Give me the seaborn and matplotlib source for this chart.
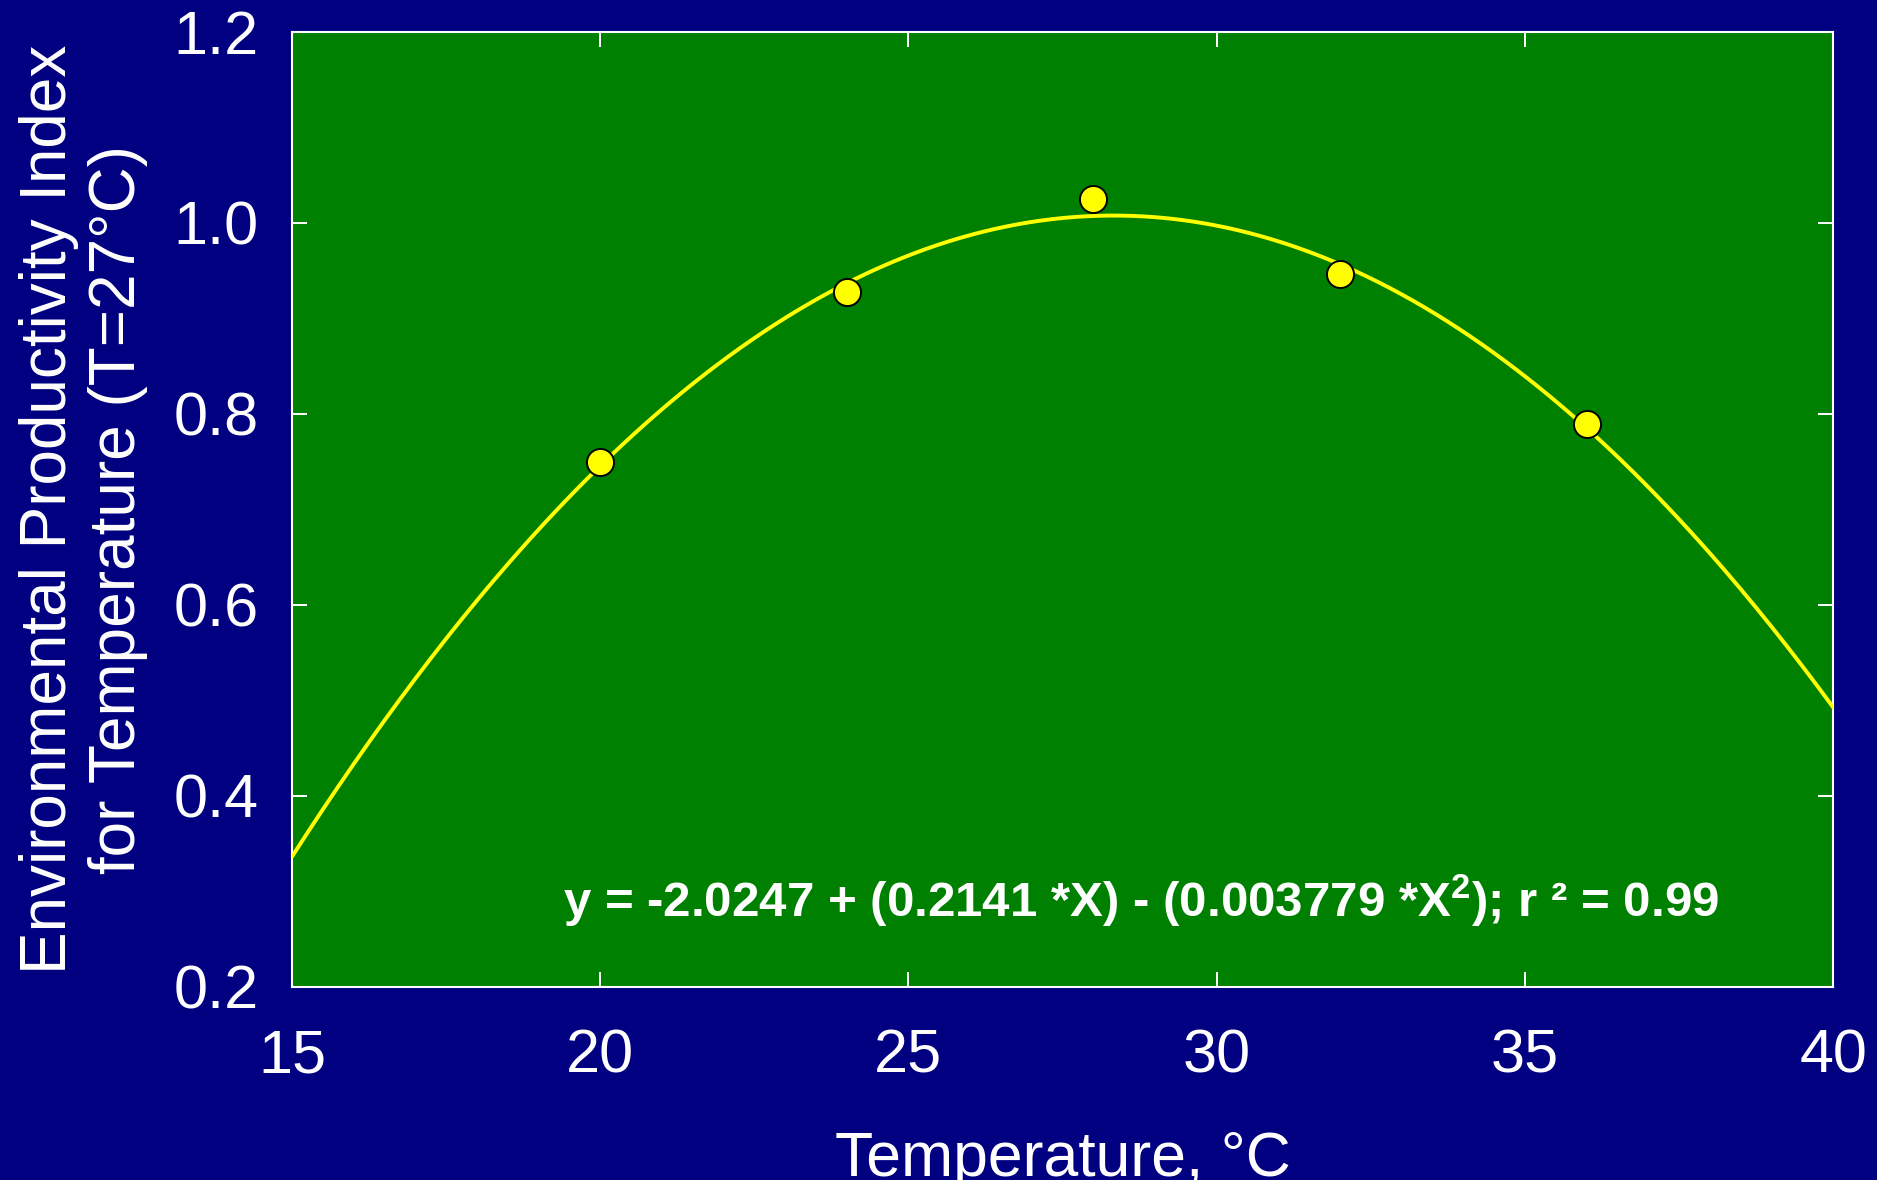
import numpy as np
import pandas as pd
import matplotlib
matplotlib.use("Agg")
import matplotlib.pyplot as plt
import seaborn as sns

# Observed productivity index at each temperature
temperature = [20, 24, 28, 32, 36]
productivity = [0.750, 0.928, 1.025, 0.947, 0.789]

# Quadratic fit coefficients: y = b0 + b1*X + b2*X^2
b0, b1, b2 = -2.0247, 0.2141, -0.003779
r_squared = 0.99

x_ticks = [15, 20, 25, 30, 35, 40]
y_ticks = [0.2, 0.4, 0.6, 0.8, 1.0, 1.2]

NAVY = "#000080"
GREEN = "#008000"
YELLOW = "#FFFF00"

sns.set_theme(style="ticks")
plt.rcParams["font.family"] = ["Liberation Sans", "DejaVu Sans"]
plt.rcParams["mathtext.fontset"] = "custom"
plt.rcParams["mathtext.rm"] = "Liberation Sans:bold"
plt.rcParams["mathtext.bf"] = "Liberation Sans:bold"

fig = plt.figure(figsize=(18.77, 11.80), dpi=100, facecolor=NAVY)
ax = fig.add_axes([0.1556, 0.1636, 0.9766 - 0.1556, 0.9729 - 0.1636])
ax.set_facecolor(GREEN)

fit_x = np.linspace(15, 40, 400)
fit = pd.DataFrame({"T": fit_x, "EPI": b0 + b1 * fit_x + b2 * fit_x ** 2})
obs = pd.DataFrame({"T": temperature, "EPI": productivity})

sns.lineplot(data=fit, x="T", y="EPI", ax=ax, color=YELLOW, linewidth=2.8, zorder=3)
sns.scatterplot(data=obs, x="T", y="EPI", ax=ax, color=YELLOW, edgecolor="black",
                linewidth=1.4, s=380, zorder=4)

ax.set_xlim(15, 40)
ax.set_ylim(0.2, 1.2)
ax.set_xticks(x_ticks)
ax.set_yticks(y_ticks)
ax.set_xticklabels([f"{v:d}" for v in x_ticks])
ax.set_yticklabels([f"{v:.1f}" for v in y_ticks])

for side in ["left", "right", "top", "bottom"]:
    ax.spines[side].set_visible(True)
    ax.spines[side].set_color("white")
    ax.spines[side].set_linewidth(1.5)

ax.tick_params(axis="both", which="major", direction="in", length=11, width=1.4,
               color="white", labelcolor="white", labelsize=44,
               top=True, right=True, labeltop=False, labelright=False)
ax.tick_params(axis="x", pad=30)
ax.tick_params(axis="y", pad=24)

ax.set_xlabel("Temperature, °C", color="white", fontsize=45, labelpad=32)
ax.set_ylabel("Environmental Productivity Index\nfor Temperature (T=27°C)",
              color="white", fontsize=46, labelpad=18, linespacing=1.2)

eq = (f"y = {b0:.4f} + ({b1:.4f} *X) - ({-b2:.6f} *X$^2$); "
      f"r ² = {r_squared:.2f}")
ax.text(0.551, 0.072, eq, transform=ax.transAxes, ha="center", va="baseline",
        color="white", fontsize=35.5, fontweight="bold")

fig.savefig("out.png", dpi=100, facecolor=NAVY)
